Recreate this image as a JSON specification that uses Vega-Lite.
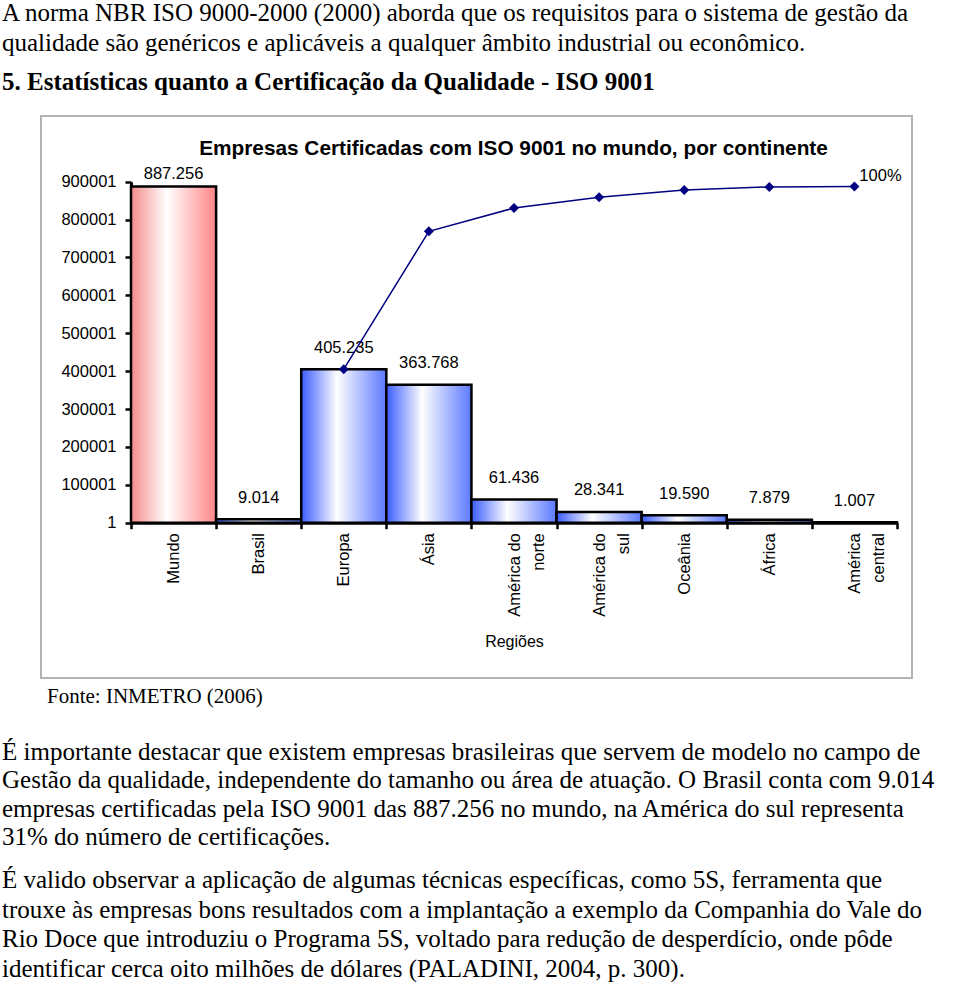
{
  "$schema": "https://vega.github.io/schema/vega-lite/v6.json",
  "padding": {"left": 2, "top": 1, "right": 0, "bottom": 0},
  "background": "white",
  "title": {
    "text": ["A norma NBR ISO 9000-2000 (2000) aborda que os requisitos para o sistema de gestão da", "qualidade são genéricos e aplicáveis a qualquer âmbito industrial ou econômico."],
    "subtitle": "5. Estatísticas quanto a Certificação da Qualidade - ISO 9001",
    "anchor": "start", "frame": "group", "dx": -39, "offset": 20,
    "font": "Liberation Serif", "fontSize": 25, "fontWeight": "normal", "color": "black", "lineHeight": 30,
    "subtitleFont": "Liberation Serif", "subtitleFontSize": 25, "subtitleFontWeight": "bold", "subtitleColor": "black", "subtitlePadding": 14
  },
  "bounds": "flush",
  "spacing": 0,
  "vconcat": [
    {
      "width": 871,
      "height": 562,
      "view": {"stroke": "#b3b3b3", "strokeWidth": 2},
      "title": {"text": "Empresas Certificadas com ISO 9001 no mundo, por continente", "font": "Liberation Sans", "fontSize": 20.8, "fontWeight": "bold", "color": "black", "anchor": "middle", "frame": "group", "offset": -44, "dx": 37},
      "data": {"values": [
        {"regiao": "Mundo", "empresas": 887256},
        {"regiao": "Brasil", "empresas": 9014},
        {"regiao": "Europa", "empresas": 405235, "acumulado": 405235, "pct": 0.4567},
        {"regiao": "Ásia", "empresas": 363768, "acumulado": 769003, "pct": 0.8667},
        {"regiao": "América do norte", "empresas": 61436, "acumulado": 830439, "pct": 0.936},
        {"regiao": "América do sul", "empresas": 28341, "acumulado": 858780, "pct": 0.9679},
        {"regiao": "Oceânia", "empresas": 19590, "acumulado": 878370, "pct": 0.99},
        {"regiao": "África", "empresas": 7879, "acumulado": 886249, "pct": 0.9989},
        {"regiao": "América central", "empresas": 1007, "acumulado": 887256, "pct": 1}
      ]},
      "encoding": {
        "x": {
          "field": "regiao", "type": "nominal", "sort": null,
          "scale": {"range": [90, 856], "paddingInner": 0, "paddingOuter": 0},
          "axis": {
            "offset": -155.3, "labelAngle": 270, "tickBand": "extent", "grid": false,
            "domainColor": "black", "domainWidth": 3, "tickColor": "black", "tickWidth": 2.5, "tickSize": 6,
            "labelFont": "Liberation Sans", "labelFontSize": 16.5, "labelColor": "black", "labelPadding": 4, "labelLineHeight": 24,
            "labelExpr": "datum.label == 'América do norte' ? ['América do', 'norte'] : datum.label == 'América do sul' ? ['América do', 'sul'] : datum.label == 'América central' ? ['América', 'central'] : datum.label",
            "title": "Regiões", "titleFont": "Liberation Sans", "titleFontSize": 16, "titleFontWeight": "normal", "titleColor": "black", "titlePadding": 17
          }
        }
      },
      "layer": [
        {
          "transform": [{"filter": "datum.regiao === 'Mundo'"}],
          "mark": {"type": "bar", "stroke": "black", "strokeWidth": 2.5,
            "color": {"gradient": "linear", "x1": 0, "y1": 0, "x2": 1, "y2": 0, "stops": [{"offset": 0, "color": "#f48a8a"}, {"offset": 0.42, "color": "#ffffff"}, {"offset": 1, "color": "#ff8585"}]}},
          "encoding": {
            "y": {"field": "empresas", "type": "quantitative", "title": null,
              "scale": {"domain": [1, 900001], "range": [406.7, 65.7], "nice": false, "zero": false},
              "axis": {"values": [1, 100001, 200001, 300001, 400001, 500001, 600001, 700001, 800001, 900001], "format": "d", "offset": -90, "grid": false,
                "domainColor": "black", "domainWidth": 3, "tickColor": "black", "tickWidth": 2.5, "tickSize": 6,
                "labelFont": "Liberation Sans", "labelFontSize": 16.5, "labelColor": "black", "labelPadding": 9, "labelOverlap": false, "labelFlush": false, "title": null}},
            "y2": {"datum": 1}
          }
        },
        {
          "transform": [{"filter": "datum.regiao !== 'Mundo'"}],
          "mark": {"type": "bar", "stroke": "black", "strokeWidth": 2.5,
            "color": {"gradient": "linear", "x1": 0, "y1": 0, "x2": 1, "y2": 0, "stops": [{"offset": 0, "color": "#3a5cff"}, {"offset": 0.42, "color": "#ffffff"}, {"offset": 1, "color": "#5b79ff"}]}},
          "encoding": {
            "y": {"field": "empresas", "type": "quantitative", "title": null},
            "y2": {"datum": 1}
          }
        },
        {
          "transform": [{"filter": "datum.regiao !== 'Mundo'"}],
          "mark": {"type": "text", "dy": -21.5, "baseline": "middle", "font": "Liberation Sans", "fontSize": 16.5, "color": "black"},
          "encoding": {
            "y": {"field": "empresas", "type": "quantitative", "title": null},
            "text": {"field": "empresas", "type": "quantitative", "format": ",d"}
          }
        },
        {
          "transform": [{"filter": "datum.regiao === 'Mundo'"}],
          "mark": {"type": "text", "dy": -13, "baseline": "middle", "font": "Liberation Sans", "fontSize": 16.5, "color": "black"},
          "encoding": {
            "y": {"field": "empresas", "type": "quantitative", "title": null},
            "text": {"field": "empresas", "type": "quantitative", "format": ",d"}
          }
        },
        {
          "mark": {"type": "line", "color": "#000080", "strokeWidth": 1.5},
          "encoding": {"y": {"field": "acumulado", "type": "quantitative", "title": null}}
        },
        {
          "mark": {"type": "point", "shape": "diamond", "filled": true, "size": 100, "color": "#000080", "opacity": 1},
          "encoding": {"y": {"field": "acumulado", "type": "quantitative", "title": null}}
        },
        {
          "transform": [{"filter": "datum.regiao === 'América central'"}],
          "mark": {"type": "text", "dx": 26, "dy": -11, "baseline": "middle", "font": "Liberation Sans", "fontSize": 16.5, "color": "black"},
          "encoding": {
            "y": {"field": "acumulado", "type": "quantitative", "title": null},
            "text": {"field": "pct", "type": "quantitative", "format": ".0%"}
          }
        }
      ]
    },
    {
      "width": 871,
      "height": 1,
      "data": {"values": [{}]},
      "mark": {"type": "text", "text": ""},
      "title": {"text": "Fonte: INMETRO (2006)", "orient": "bottom", "anchor": "start", "frame": "group", "dx": 6, "offset": 2,
        "font": "Liberation Serif", "fontSize": 21, "fontWeight": "normal", "color": "black"}
    },
    {
      "width": 871,
      "height": 1,
      "data": {"values": [{}]},
      "mark": {"type": "text", "text": ""},
      "title": {
        "text": ["É importante destacar que existem empresas brasileiras que servem de modelo no campo de", "Gestão da qualidade, independente do tamanho ou área de atuação. O Brasil conta com 9.014", "empresas certificadas pela ISO 9001 das 887.256 no mundo, na América do sul representa", "31% do número de certificações."],
        "subtitle": ["É valido observar a aplicação de algumas técnicas específicas, como 5S, ferramenta que", "trouxe às empresas bons resultados com a implantação a exemplo da Companhia do Vale do", "Rio Doce que introduziu o Programa 5S, voltado para redução de desperdício, onde pôde", "identificar cerca oito milhões de dólares (PALADINI, 2004, p. 300)."],
        "orient": "bottom", "anchor": "start", "frame": "group", "dx": -39, "offset": 55,
        "font": "Liberation Serif", "fontSize": 25, "fontWeight": "normal", "color": "black", "lineHeight": 28.5,
        "subtitleFont": "Liberation Serif", "subtitleFontSize": 25, "subtitleFontWeight": "normal", "subtitleColor": "black", "subtitleLineHeight": 29.5, "subtitlePadding": 18
      }
    }
  ],
  "config": {
    "locale": {"number": {"decimal": ",", "thousands": ".", "grouping": [3], "currency": ["R$", ""]}},
    "view": {"stroke": null},
    "font": "Liberation Sans"
  }
}
